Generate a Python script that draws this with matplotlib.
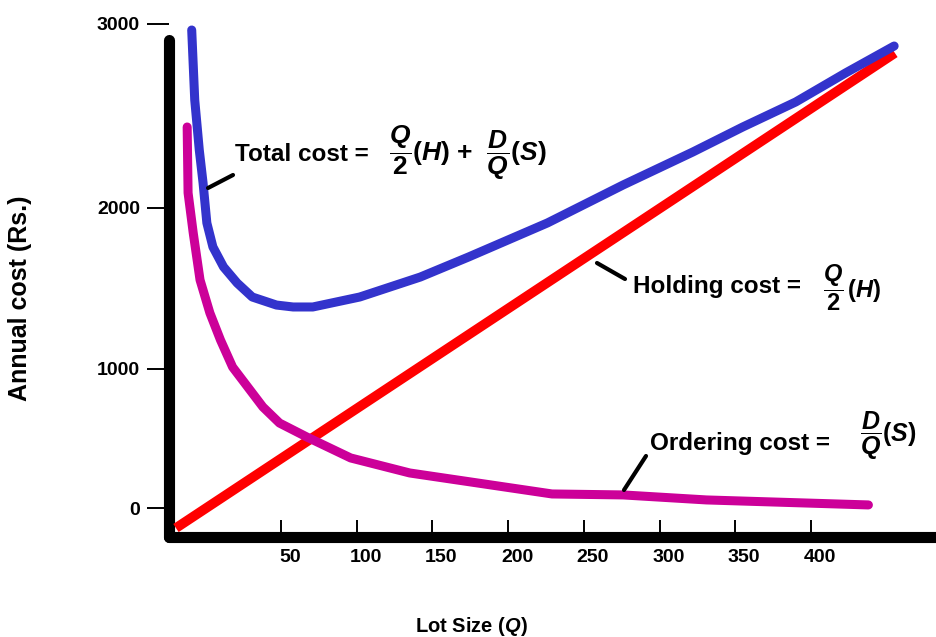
import numpy as np
import matplotlib.pyplot as plt
from matplotlib.transforms import ScaledTranslation

# values (lot size Q, annual cost in Rs.)
total_q = [-9, -7, -4, -1.5, 1, 5, 12, 21, 31, 47, 58, 71, 102, 142, 174, 226, 276, 322, 355, 390, 423, 455]
total_cost = [2967, 2587, 2315, 2136, 1907, 1758, 1634, 1534, 1447, 1397, 1385, 1385, 1447, 1571, 1696, 1907,
              2125, 2304, 2440, 2576, 2734, 2880]

ordering_q = [-12, -11.4, -8, -3.5, 3, 10, 18, 29.5, 38, 49, 67, 96, 135, 229, 276, 331, 438]
ordering_cost = [2440, 2082, 1845, 1553, 1348, 1180, 1012, 849, 727, 611, 511, 360, 252, 101, 94, 58, 22]

holding_q = [-19.4, 455.5]
holding_cost = [-144, 2842]

x_ticks = [50, 100, 150, 200, 250, 300, 350, 400]
y_ticks = [0, 1000, 2000, 3000]

plt.rcParams['font.family'] = ['Liberation Sans', 'DejaVu Sans']
plt.rcParams['font.weight'] = 'bold'
plt.rcParams['mathtext.fontset'] = 'custom'
plt.rcParams['mathtext.rm'] = 'Liberation Sans:bold'
plt.rcParams['mathtext.it'] = 'Liberation Sans:bold:italic'
plt.rcParams['mathtext.bf'] = 'Liberation Sans:bold'

W, H = 937, 637
fig = plt.figure(figsize=(W / 100, H / 100), dpi=100)
ax = fig.add_axes([169 / W, (H - 537) / H, (W - 169) / W, 537 / H])

# the cost axis of the original is not evenly spaced between its ticks
cost_knots = [-3000, 0, 1000, 2000, 3000, 6000]
pix_knots = [-417, 0, 139, 300, 484, 1036]


def fwd(v):
    return np.interp(v, cost_knots, pix_knots)


def inv(p):
    return np.interp(p, pix_knots, cost_knots)


ax.set_yscale('function', functions=(fwd, inv))

ax.plot(holding_q, holding_cost, color='#ff0000', lw=7, solid_capstyle='butt', zorder=3)
ax.plot(ordering_q, ordering_cost, color='#cc0099', lw=6.5, solid_capstyle='round',
        solid_joinstyle='round', zorder=3)
ax.plot(total_q, total_cost, color='#3333cc', lw=6.5, solid_capstyle='round',
        solid_joinstyle='round', zorder=3)

ax.set_xlim(-24, 483.3)
ax.set_ylim(-208.6, 3130)
ax.set_xticks(x_ticks)
ax.set_yticks(y_ticks)
ax.tick_params(axis='y', direction='out', length=15.8, width=1.4, pad=5, labelsize=14)
ax.tick_params(axis='x', direction='in', length=12, width=1.4, pad=9, labelsize=14)
shift = ScaledTranslation(9 / 100, 0, fig.dpi_scale_trans)
for lab in ax.get_xticklabels():
    lab.set_transform(lab.get_transform() + shift)

for s in ['top', 'right']:
    ax.spines[s].set_visible(False)
for s in ['left', 'bottom']:
    ax.spines[s].set_linewidth(8)
    ax.spines[s].set_capstyle('round')
ax.spines['left'].set_bounds(-208.6, 2913)

fig.text(20 / W, 1 - 298 / H, 'Annual cost (Rs.)', rotation=90, fontsize=18,
         ha='center', va='center')
fig.text(471 / W, 1 - 627 / H, 'Lot Size ($Q$)', fontsize=14.5, ha='center', va='center')


def fpx(x, y):
    return (x, H - y)


def label(txt, x, y, size, va):
    ax.annotate(txt, xy=fpx(x, y), xycoords='figure pixels', fontsize=size, ha='left', va=va)


def leader(a, b):
    ax.annotate('', xy=fpx(*a), xytext=fpx(*b), xycoords='figure pixels', textcoords='figure pixels',
                arrowprops=dict(arrowstyle='-', lw=3, color='black', shrinkA=0, shrinkB=0))


label('Total cost =', 235, 161, 17.5, 'baseline')
label(r'$\dfrac{Q}{2}(H)$ +  $\dfrac{D}{Q}(S)$', 389, 153, 19, 'center')
leader((208, 188), (233, 175))

label('Holding cost =', 633, 293, 17.5, 'baseline')
label(r'$\dfrac{Q}{2}\,(H)$', 823, 288, 17, 'center')
leader((597, 263), (625, 279))

label('Ordering cost =', 650, 450, 17.5, 'baseline')
label(r'$\dfrac{D}{Q}(S)$', 860, 436, 18, 'center')
leader((624, 490), (646, 456))

fig.savefig('out.png', dpi=100)
